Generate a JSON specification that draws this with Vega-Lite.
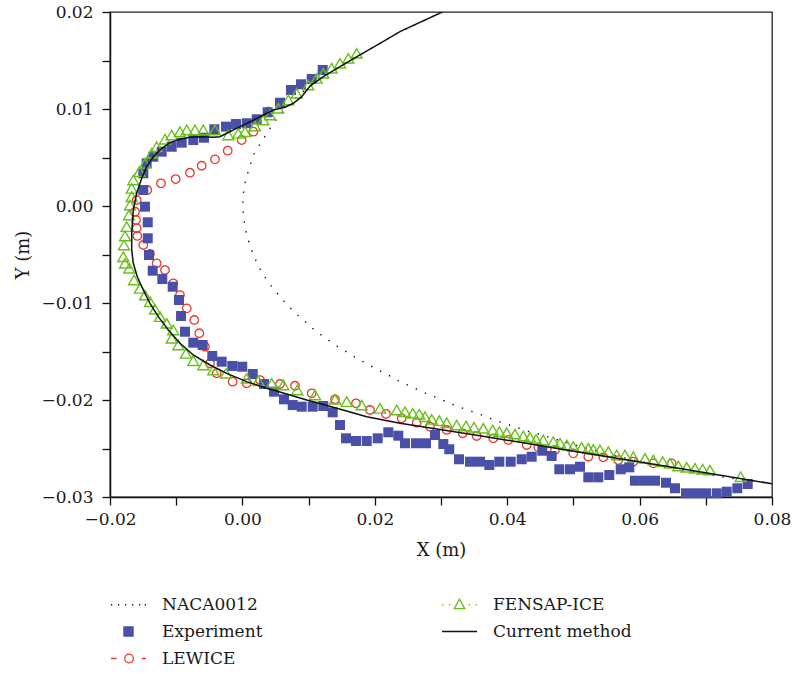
{
"$schema": "https://vega.github.io/schema/vega-lite/v6.json",
"width": 662, "height": 485,
"autosize": {"type": "none"},
"padding": {"left": 110, "top": 12, "right": 20, "bottom": 177},
"background": "white",
"config": {
  "font": "DejaVu Serif",
  "view": {"stroke": "#222", "strokeWidth": 1.3},
  "axis": {"grid": false, "domainColor": "#111", "domainWidth": 1.5, "tickColor": "#111", "tickWidth": 1.3, "tickSize": 8,
    "labelFont": "DejaVu Serif", "labelFontSize": 17, "labelColor": "#1a1a1a", "titleFont": "DejaVu Serif", "titleFontSize": 18,
    "titleFontWeight": "normal", "titleColor": "#1a1a1a", "labelOverlap": false, "labelFlush": false}
},
"data": {"values": [
{"series":"NACA0012","x":0.0345,"y":0.0211},{"series":"NACA0012","x":0.0301,"y":0.01997},{"series":"NACA0012","x":0.0238,"y":0.01797},{"series":"NACA0012","x":0.02079,"y":0.01677},{"series":"NACA0012","x":0.01776,"y":0.01557},{"series":"NACA0012","x":0.01474,"y":0.01436},{"series":"NACA0012","x":0.01222,"y":0.01333},{"series":"NACA0012","x":0.01021,"y":0.01237},{"series":"NACA0012","x":0.0075,"y":0.0108},{"series":"NACA0012","x":0.00533,"y":0.00914},{"series":"NACA0012","x":0.00443,"y":0.00825},{"series":"NACA0012","x":0.00352,"y":0.00732},{"series":"NACA0012","x":0.00266,"y":0.00639},{"series":"NACA0012","x":0.0018,"y":0.00543},{"series":"NACA0012","x":0.00125,"y":0.0044},{"series":"NACA0012","x":0.0008,"y":0.00337},{"series":"NACA0012","x":0.00039,"y":0.00234},{"series":"NACA0012","x":0.00014,"y":0.00124},{"series":"NACA0012","x":0.00005,"y":0.00021},{"series":"NACA0012","x":0.00014,"y":-0.00086},{"series":"NACA0012","x":0.00035,"y":-0.00196},{"series":"NACA0012","x":0.00065,"y":-0.003},{"series":"NACA0012","x":0.00115,"y":-0.00402},{"series":"NACA0012","x":0.00165,"y":-0.00505},{"series":"NACA0012","x":0.00231,"y":-0.006},{"series":"NACA0012","x":0.003,"y":-0.00693},{"series":"NACA0012","x":0.00391,"y":-0.00786},{"series":"NACA0012","x":0.00492,"y":-0.00873},{"series":"NACA0012","x":0.00594,"y":-0.00956},{"series":"NACA0012","x":0.00693,"y":-0.01031},{"series":"NACA0012","x":0.00805,"y":-0.01106},{"series":"NACA0012","x":0.0092,"y":-0.01175},{"series":"NACA0012","x":0.01047,"y":-0.01255},{"series":"NACA0012","x":0.01172,"y":-0.0132},{"series":"NACA0012","x":0.01313,"y":-0.01389},{"series":"NACA0012","x":0.0144,"y":-0.0145},{"series":"NACA0012","x":0.01576,"y":-0.01505},{"series":"NACA0012","x":0.01705,"y":-0.0156},{"series":"NACA0012","x":0.01852,"y":-0.01615},{"series":"NACA0012","x":0.01988,"y":-0.01667},{"series":"NACA0012","x":0.02128,"y":-0.01719},{"series":"NACA0012","x":0.0227,"y":-0.01766},{"series":"NACA0012","x":0.02406,"y":-0.01822},{"series":"NACA0012","x":0.02557,"y":-0.01863},{"series":"NACA0012","x":0.02698,"y":-0.0191},{"series":"NACA0012","x":0.02844,"y":-0.01952},{"series":"NACA0012","x":0.02995,"y":-0.01993},{"series":"NACA0012","x":0.03136,"y":-0.02034},{"series":"NACA0012","x":0.03287,"y":-0.02075},{"series":"NACA0012","x":0.03438,"y":-0.02113},{"series":"NACA0012","x":0.03589,"y":-0.02148},{"series":"NACA0012","x":0.0374,"y":-0.02189},{"series":"NACA0012","x":0.03881,"y":-0.02224},{"series":"NACA0012","x":0.04032,"y":-0.02258},{"series":"NACA0012","x":0.04183,"y":-0.02292},{"series":"NACA0012","x":0.04334,"y":-0.02327},{"series":"NACA0012","x":0.04485,"y":-0.02351},{"series":"NACA0012","x":0.04636,"y":-0.02385},{"series":"NACA0012","x":0.04798,"y":-0.02418},{"series":"NACA0012","x":0.051,"y":-0.02479},{"series":"NACA0012","x":0.05402,"y":-0.02536},{"series":"NACA0012","x":0.05704,"y":-0.02588},{"series":"NACA0012","x":0.06006,"y":-0.02634},{"series":"NACA0012","x":0.06308,"y":-0.02675},{"series":"NACA0012","x":0.0661,"y":-0.02716},{"series":"NACA0012","x":0.06912,"y":-0.02753},{"series":"NACA0012","x":0.07215,"y":-0.02789},{"series":"NACA0012","x":0.07517,"y":-0.0282},{"series":"NACA0012","x":0.07819,"y":-0.02845},{"series":"NACA0012","x":0.08121,"y":-0.02876},
{"series":"LEWICE","x":0.00568,"y":0.01059},{"series":"LEWICE","x":0.00391,"y":0.00972},{"series":"LEWICE","x":0.00165,"y":0.00766},{"series":"LEWICE","x":-0.00011,"y":0.0068},{"series":"LEWICE","x":-0.00222,"y":0.0057},{"series":"LEWICE","x":-0.00414,"y":0.00481},{"series":"LEWICE","x":-0.00615,"y":0.00415},{"series":"LEWICE","x":-0.00792,"y":0.00343},{"series":"LEWICE","x":-0.01008,"y":0.00278},{"series":"LEWICE","x":-0.0123,"y":0.00234},{"series":"LEWICE","x":-0.01437,"y":0.00165},{"series":"LEWICE","x":-0.01597,"y":0.00062},{"series":"LEWICE","x":-0.01622,"y":-0.00059},{"series":"LEWICE","x":-0.01607,"y":-0.00144},{"series":"LEWICE","x":-0.01597,"y":-0.0023},{"series":"LEWICE","x":-0.01588,"y":-0.00309},{"series":"LEWICE","x":-0.01497,"y":-0.00402},{"series":"LEWICE","x":-0.01396,"y":-0.00495},{"series":"LEWICE","x":-0.01295,"y":-0.00591},{"series":"LEWICE","x":-0.01169,"y":-0.0066},{"series":"LEWICE","x":-0.01044,"y":-0.00797},{"series":"LEWICE","x":-0.00943,"y":-0.00918},{"series":"LEWICE","x":-0.00841,"y":-0.01055},{"series":"LEWICE","x":-0.00727,"y":-0.01175},{"series":"LEWICE","x":-0.00651,"y":-0.01312},{"series":"LEWICE","x":-0.00565,"y":-0.01451},{"series":"LEWICE","x":-0.00489,"y":-0.01622},{"series":"LEWICE","x":-0.00388,"y":-0.01725},{"series":"LEWICE","x":-0.00147,"y":-0.01811},{"series":"LEWICE","x":0.00065,"y":-0.01828},{"series":"LEWICE","x":0.00266,"y":-0.01794},{"series":"LEWICE","x":0.00568,"y":-0.01835},{"series":"LEWICE","x":0.00795,"y":-0.01853},{"series":"LEWICE","x":0.01047,"y":-0.01931},{"series":"LEWICE","x":0.01399,"y":-0.01993},{"series":"LEWICE","x":0.01716,"y":-0.02034},{"series":"LEWICE","x":0.01927,"y":-0.02103},{"series":"LEWICE","x":0.02169,"y":-0.02144},{"series":"LEWICE","x":0.02406,"y":-0.02189},{"series":"LEWICE","x":0.02633,"y":-0.02234},{"series":"LEWICE","x":0.02834,"y":-0.02275},{"series":"LEWICE","x":0.03086,"y":-0.02309},{"series":"LEWICE","x":0.03328,"y":-0.02343},{"series":"LEWICE","x":0.03539,"y":-0.02371},{"series":"LEWICE","x":0.0379,"y":-0.02395},{"series":"LEWICE","x":0.04017,"y":-0.02412},{"series":"LEWICE","x":0.04295,"y":-0.02464},{"series":"LEWICE","x":0.0447,"y":-0.02488},{"series":"LEWICE","x":0.04722,"y":-0.02515},{"series":"LEWICE","x":0.04998,"y":-0.0255},{"series":"LEWICE","x":0.05225,"y":-0.02585},{"series":"LEWICE","x":0.05452,"y":-0.02591},{"series":"LEWICE","x":0.05678,"y":-0.02619},{"series":"LEWICE","x":0.05905,"y":-0.02636},{"series":"LEWICE","x":0.06207,"y":-0.02653},{"series":"LEWICE","x":0.06485,"y":-0.02653},
{"series":"Experiment","x":0.01213,"y":0.01402},{"series":"Experiment","x":0.01047,"y":0.01309},{"series":"Experiment","x":0.00885,"y":0.01255},{"series":"Experiment","x":0.00734,"y":0.01196},{"series":"Experiment","x":0.00568,"y":0.01065},{"series":"Experiment","x":0.00382,"y":0.00966},{"series":"Experiment","x":0.00216,"y":0.00894},{"series":"Experiment","x":0.00065,"y":0.00853},{"series":"Experiment","x":-0.00097,"y":0.00845},{"series":"Experiment","x":-0.00248,"y":0.00818},{"series":"Experiment","x":-0.00424,"y":0.00791},{"series":"Experiment","x":-0.0058,"y":0.00704},{"series":"Experiment","x":-0.00742,"y":0.0068},{"series":"Experiment","x":-0.00917,"y":0.00653},{"series":"Experiment","x":-0.01068,"y":0.00611},{"series":"Experiment","x":-0.01219,"y":0.0056},{"series":"Experiment","x":-0.01346,"y":0.00508},{"series":"Experiment","x":-0.01446,"y":0.0044},{"series":"Experiment","x":-0.01497,"y":0.00337},{"series":"Experiment","x":-0.01497,"y":0.00165},{"series":"Experiment","x":-0.01471,"y":-0.00007},{"series":"Experiment","x":-0.0143,"y":-0.00168},{"series":"Experiment","x":-0.0143,"y":-0.00333},{"series":"Experiment","x":-0.01411,"y":-0.00505},{"series":"Experiment","x":-0.01355,"y":-0.00667},{"series":"Experiment","x":-0.0121,"y":-0.00753},{"series":"Experiment","x":-0.01053,"y":-0.00832},{"series":"Experiment","x":-0.00958,"y":-0.00969},{"series":"Experiment","x":-0.00927,"y":-0.01134},{"series":"Experiment","x":-0.00867,"y":-0.01296},{"series":"Experiment","x":-0.00742,"y":-0.01409},{"series":"Experiment","x":-0.006,"y":-0.01433},{"series":"Experiment","x":-0.00455,"y":-0.01546},{"series":"Experiment","x":-0.00313,"y":-0.01605},{"series":"Experiment","x":-0.00153,"y":-0.01649},{"series":"Experiment","x":-0.00002,"y":-0.01657},{"series":"Experiment","x":0.00156,"y":-0.01732},{"series":"Experiment","x":0.00326,"y":-0.01835},{"series":"Experiment","x":0.00477,"y":-0.01914},{"series":"Experiment","x":0.00628,"y":-0.01993},{"series":"Experiment","x":0.0076,"y":-0.02052},{"series":"Experiment","x":0.00896,"y":-0.02069},{"series":"Experiment","x":0.01062,"y":-0.02069},{"series":"Experiment","x":0.01222,"y":-0.02062},{"series":"Experiment","x":0.01364,"y":-0.02127},{"series":"Experiment","x":0.01474,"y":-0.02258},{"series":"Experiment","x":0.01565,"y":-0.02395},{"series":"Experiment","x":0.01716,"y":-0.02423},{"series":"Experiment","x":0.01878,"y":-0.02423},{"series":"Experiment","x":0.02044,"y":-0.02395},{"series":"Experiment","x":0.02204,"y":-0.02333},{"series":"Experiment","x":0.02355,"y":-0.02368},{"series":"Experiment","x":0.02456,"y":-0.02446},{"series":"Experiment","x":0.02622,"y":-0.02446},{"series":"Experiment","x":0.02773,"y":-0.02446},{"series":"Experiment","x":0.02909,"y":-0.02361},{"series":"Experiment","x":0.03035,"y":-0.02454},{"series":"Experiment","x":0.03125,"y":-0.02508},{"series":"Experiment","x":0.03272,"y":-0.02611},{"series":"Experiment","x":0.03438,"y":-0.02636},{"series":"Experiment","x":0.03589,"y":-0.02636},{"series":"Experiment","x":0.0373,"y":-0.0267},{"series":"Experiment","x":0.03881,"y":-0.02636},{"series":"Experiment","x":0.04053,"y":-0.02636},{"series":"Experiment","x":0.04219,"y":-0.02611},{"series":"Experiment","x":0.0437,"y":-0.02585},{"series":"Experiment","x":0.0453,"y":-0.02523},{"series":"Experiment","x":0.04672,"y":-0.02577},{"series":"Experiment","x":0.04787,"y":-0.02714},{"series":"Experiment","x":0.04949,"y":-0.02714},{"series":"Experiment","x":0.051,"y":-0.02688},{"series":"Experiment","x":0.05225,"y":-0.02797},{"series":"Experiment","x":0.05376,"y":-0.02797},{"series":"Experiment","x":0.05542,"y":-0.02773},{"series":"Experiment","x":0.05715,"y":-0.02714},{"series":"Experiment","x":0.05844,"y":-0.02694},{"series":"Experiment","x":0.0593,"y":-0.02832},{"series":"Experiment","x":0.06082,"y":-0.02832},{"series":"Experiment","x":0.06233,"y":-0.02832},{"series":"Experiment","x":0.06399,"y":-0.02853},{"series":"Experiment","x":0.06535,"y":-0.0291},{"series":"Experiment","x":0.06701,"y":-0.02962},{"series":"Experiment","x":0.06852,"y":-0.02962},{"series":"Experiment","x":0.07003,"y":-0.02962},{"series":"Experiment","x":0.07165,"y":-0.02962},{"series":"Experiment","x":0.07316,"y":-0.02945},{"series":"Experiment","x":0.07476,"y":-0.0291},{"series":"Experiment","x":0.07633,"y":-0.02866},
{"series":"FENSAP-ICE","x":0.01727,"y":0.01574},{"series":"FENSAP-ICE","x":0.016,"y":0.01523},{"series":"FENSAP-ICE","x":0.01474,"y":0.01471},{"series":"FENSAP-ICE","x":0.01349,"y":0.0142},{"series":"FENSAP-ICE","x":0.01222,"y":0.01368},{"series":"FENSAP-ICE","x":0.01122,"y":0.01316},{"series":"FENSAP-ICE","x":0.00995,"y":0.01247},{"series":"FENSAP-ICE","x":0.0082,"y":0.01162},{"series":"FENSAP-ICE","x":0.00693,"y":0.01093},{"series":"FENSAP-ICE","x":0.00542,"y":0.01007},{"series":"FENSAP-ICE","x":0.00417,"y":0.00938},{"series":"FENSAP-ICE","x":0.00316,"y":0.00887},{"series":"FENSAP-ICE","x":0.0019,"y":0.00825},{"series":"FENSAP-ICE","x":0.00039,"y":0.00766},{"series":"FENSAP-ICE","x":-0.00062,"y":0.00749},{"series":"FENSAP-ICE","x":-0.00213,"y":0.00732},{"series":"FENSAP-ICE","x":-0.00414,"y":0.00784},{"series":"FENSAP-ICE","x":-0.00591,"y":0.00784},{"series":"FENSAP-ICE","x":-0.00716,"y":0.00784},{"series":"FENSAP-ICE","x":-0.00841,"y":0.00784},{"series":"FENSAP-ICE","x":-0.00943,"y":0.00766},{"series":"FENSAP-ICE","x":-0.01068,"y":0.00732},{"series":"FENSAP-ICE","x":-0.01169,"y":0.00688},{"series":"FENSAP-ICE","x":-0.01295,"y":0.00611},{"series":"FENSAP-ICE","x":-0.0137,"y":0.00543},{"series":"FENSAP-ICE","x":-0.01471,"y":0.0044},{"series":"FENSAP-ICE","x":-0.01557,"y":0.00354},{"series":"FENSAP-ICE","x":-0.01648,"y":0.00268},{"series":"FENSAP-ICE","x":-0.01672,"y":0.00182},{"series":"FENSAP-ICE","x":-0.01672,"y":0.00096},{"series":"FENSAP-ICE","x":-0.01698,"y":0.0001},{"series":"FENSAP-ICE","x":-0.01713,"y":-0.00093},{"series":"FENSAP-ICE","x":-0.01748,"y":-0.00213},{"series":"FENSAP-ICE","x":-0.01773,"y":-0.00309},{"series":"FENSAP-ICE","x":-0.01789,"y":-0.00402},{"series":"FENSAP-ICE","x":-0.01799,"y":-0.00523},{"series":"FENSAP-ICE","x":-0.01773,"y":-0.00591},{"series":"FENSAP-ICE","x":-0.01708,"y":-0.00642},{"series":"FENSAP-ICE","x":-0.01637,"y":-0.00763},{"series":"FENSAP-ICE","x":-0.01547,"y":-0.00849},{"series":"FENSAP-ICE","x":-0.01471,"y":-0.00918},{"series":"FENSAP-ICE","x":-0.01396,"y":-0.00987},{"series":"FENSAP-ICE","x":-0.0132,"y":-0.01065},{"series":"FENSAP-ICE","x":-0.01245,"y":-0.01141},{"series":"FENSAP-ICE","x":-0.01144,"y":-0.01209},{"series":"FENSAP-ICE","x":-0.01044,"y":-0.01278},{"series":"FENSAP-ICE","x":-0.01068,"y":-0.01364},{"series":"FENSAP-ICE","x":-0.00968,"y":-0.01433},{"series":"FENSAP-ICE","x":-0.00852,"y":-0.01519},{"series":"FENSAP-ICE","x":-0.00742,"y":-0.01595},{"series":"FENSAP-ICE","x":-0.00591,"y":-0.01639},{"series":"FENSAP-ICE","x":-0.0044,"y":-0.01691},{"series":"FENSAP-ICE","x":-0.00248,"y":-0.01725},{"series":"FENSAP-ICE","x":0.00065,"y":-0.01776},{"series":"FENSAP-ICE","x":0.0024,"y":-0.01801},{"series":"FENSAP-ICE","x":0.00443,"y":-0.01828},{"series":"FENSAP-ICE","x":0.00618,"y":-0.01845},{"series":"FENSAP-ICE","x":0.00829,"y":-0.01897},{"series":"FENSAP-ICE","x":0.01097,"y":-0.01948},{"series":"FENSAP-ICE","x":0.01399,"y":-0.01993},{"series":"FENSAP-ICE","x":0.01576,"y":-0.02017},{"series":"FENSAP-ICE","x":0.01802,"y":-0.02052},{"series":"FENSAP-ICE","x":0.02079,"y":-0.02086},{"series":"FENSAP-ICE","x":0.02331,"y":-0.02103},{"series":"FENSAP-ICE","x":0.02456,"y":-0.02121},{"series":"FENSAP-ICE","x":0.02573,"y":-0.02137},{"series":"FENSAP-ICE","x":0.02672,"y":-0.02147},{"series":"FENSAP-ICE","x":0.02758,"y":-0.02172},{"series":"FENSAP-ICE","x":0.0286,"y":-0.02199},{"series":"FENSAP-ICE","x":0.02974,"y":-0.02213},{"series":"FENSAP-ICE","x":0.03086,"y":-0.02234},{"series":"FENSAP-ICE","x":0.03237,"y":-0.02258},{"series":"FENSAP-ICE","x":0.03378,"y":-0.02268},{"series":"FENSAP-ICE","x":0.03498,"y":-0.02281},{"series":"FENSAP-ICE","x":0.03639,"y":-0.02292},{"series":"FENSAP-ICE","x":0.03781,"y":-0.02309},{"series":"FENSAP-ICE","x":0.03881,"y":-0.02327},{"series":"FENSAP-ICE","x":0.03993,"y":-0.02337},{"series":"FENSAP-ICE","x":0.04118,"y":-0.02351},{"series":"FENSAP-ICE","x":0.04243,"y":-0.02371},{"series":"FENSAP-ICE","x":0.04344,"y":-0.02385},{"series":"FENSAP-ICE","x":0.04435,"y":-0.02405},{"series":"FENSAP-ICE","x":0.04545,"y":-0.02412},{"series":"FENSAP-ICE","x":0.04696,"y":-0.0243},{"series":"FENSAP-ICE","x":0.04798,"y":-0.02446},{"series":"FENSAP-ICE","x":0.04899,"y":-0.02464},{"series":"FENSAP-ICE","x":0.04998,"y":-0.02481},{"series":"FENSAP-ICE","x":0.05125,"y":-0.02488},{"series":"FENSAP-ICE","x":0.05225,"y":-0.02498},{"series":"FENSAP-ICE","x":0.05301,"y":-0.02508},{"series":"FENSAP-ICE","x":0.05402,"y":-0.02515},{"series":"FENSAP-ICE","x":0.05527,"y":-0.02533},{"series":"FENSAP-ICE","x":0.05654,"y":-0.02567},{"series":"FENSAP-ICE","x":0.05779,"y":-0.02567},{"series":"FENSAP-ICE","x":0.05905,"y":-0.02585},{"series":"FENSAP-ICE","x":0.06082,"y":-0.02601},{"series":"FENSAP-ICE","x":0.06207,"y":-0.02619},{"series":"FENSAP-ICE","x":0.06349,"y":-0.02636},{"series":"FENSAP-ICE","x":0.06459,"y":-0.02653},{"series":"FENSAP-ICE","x":0.06585,"y":-0.0268},{"series":"FENSAP-ICE","x":0.06711,"y":-0.02694},{"series":"FENSAP-ICE","x":0.06837,"y":-0.02704},{"series":"FENSAP-ICE","x":0.06953,"y":-0.02714},{"series":"FENSAP-ICE","x":0.07063,"y":-0.02722},{"series":"FENSAP-ICE","x":0.07527,"y":-0.02791},
{"series":"Current method","x":0.03438,"y":0.02165},{"series":"Current method","x":0.0301,"y":0.01997},{"series":"Current method","x":0.0238,"y":0.01797},{"series":"Current method","x":0.02079,"y":0.01677},{"series":"Current method","x":0.01776,"y":0.01557},{"series":"Current method","x":0.01474,"y":0.01436},{"series":"Current method","x":0.01222,"y":0.01333},{"series":"Current method","x":0.01021,"y":0.01237},{"series":"Current method","x":0.00896,"y":0.01127},{"series":"Current method","x":0.00769,"y":0.01059},{"series":"Current method","x":0.00643,"y":0.01018},{"series":"Current method","x":0.00467,"y":0.0099},{"series":"Current method","x":0.00316,"y":0.00938},{"series":"Current method","x":0.00141,"y":0.00876},{"series":"Current method","x":-0.00036,"y":0.00818},{"series":"Current method","x":-0.00237,"y":0.0075},{"series":"Current method","x":-0.00338,"y":0.00714},{"series":"Current method","x":-0.00439,"y":0.00708},{"series":"Current method","x":-0.0064,"y":0.00714},{"series":"Current method","x":-0.00792,"y":0.00708},{"series":"Current method","x":-0.00943,"y":0.00688},{"series":"Current method","x":-0.01094,"y":0.00653},{"series":"Current method","x":-0.01219,"y":0.00595},{"series":"Current method","x":-0.01346,"y":0.00508},{"series":"Current method","x":-0.01446,"y":0.00405},{"series":"Current method","x":-0.01521,"y":0.00286},{"series":"Current method","x":-0.01597,"y":0.00131},{"series":"Current method","x":-0.01648,"y":-0.00041},{"series":"Current method","x":-0.01672,"y":-0.00281},{"series":"Current method","x":-0.01672,"y":-0.00454},{"series":"Current method","x":-0.01648,"y":-0.00591},{"series":"Current method","x":-0.01588,"y":-0.00729},{"series":"Current method","x":-0.01497,"y":-0.00866},{"series":"Current method","x":-0.01396,"y":-0.01003},{"series":"Current method","x":-0.0127,"y":-0.01141},{"series":"Current method","x":-0.01119,"y":-0.01278},{"series":"Current method","x":-0.00943,"y":-0.01415},{"series":"Current method","x":-0.00742,"y":-0.01536},{"series":"Current method","x":-0.00489,"y":-0.01639},{"series":"Current method","x":-0.00237,"y":-0.01725},{"series":"Current method","x":0.00065,"y":-0.01811},{"series":"Current method","x":0.00367,"y":-0.01879},{"series":"Current method","x":0.00669,"y":-0.01938},{"series":"Current method","x":0.00971,"y":-0.02},{"series":"Current method","x":0.01373,"y":-0.02075},{"series":"Current method","x":0.01878,"y":-0.02172},{"series":"Current method","x":0.02381,"y":-0.0224},{"series":"Current method","x":0.03589,"y":-0.02368},{"series":"Current method","x":0.051,"y":-0.02538},{"series":"Current method","x":0.0661,"y":-0.02707},{"series":"Current method","x":0.0802,"y":-0.02866},{"series":"Current method","x":0.0815,"y":-0.0288}
]},
"encoding": {
  "x": {"field": "x", "type": "quantitative",
    "scale": {"domain": [-0.02, 0.08], "nice": false, "zero": false},
    "axis": {"title": "X (m)", "values": [-0.02,-0.01,0,0.01,0.02,0.03,0.04,0.05,0.06,0.07,0.08],
      "labelExpr": "abs(datum.value*50 - round(datum.value*50)) < 0.001 ? format(datum.value, '.2f') : ''",
      "labelPadding": 6, "titlePadding": 14,
      "encode": {"ticks": {"update": {"y2": {"signal": "abs(datum.value*50 - round(datum.value*50)) < 0.001 ? 8 : 4"}}}}}},
  "y": {"field": "y", "type": "quantitative",
    "scale": {"domain": [-0.03, 0.02], "nice": false, "zero": false},
    "axis": {"title": "Y (m)", "values": [-0.03,-0.025,-0.02,-0.015,-0.01,-0.005,0,0.005,0.01,0.015,0.02],
      "labelExpr": "abs(datum.value*100 - round(datum.value*100)) < 0.001 ? format(datum.value, '.2f') : ''",
      "labelPadding": 9, "titlePadding": 8,
      "encode": {"ticks": {"update": {"x2": {"signal": "abs(datum.value*100 - round(datum.value*100)) < 0.001 ? -8 : -4"}}}}}},
  "color": {"field": "series", "type": "nominal",
    "scale": {"domain": ["NACA0012", "Experiment", "LEWICE", "FENSAP-ICE", "Current method"],
              "range": ["#111111", "#4a50a8", "#e8392e", "#6abf1a", "#111111"]},
    "legend": {"title": null, "orient": "none", "legendX": 0, "legendY": 574, "columns": 2, "columnPadding": 176, "rowPadding": -11,
      "symbolSize": 1225, "symbolStrokeWidth": 1.3, "labelFontSize": 17, "labelOffset": 15, "labelFont": "DejaVu Serif", "labelColor": "#1a1a1a", "padding": 0,
      "encode": {"symbols": {"update": {
        "shape": {"signal": "datum.value === 'NACA0012' ? 'M-1,0h0.07M-0.6,0h0.07M-0.2,0h0.07M0.2,0h0.07M0.6,0h0.07M0.93,0h0.07' : datum.value === 'FENSAP-ICE' ? 'M-1,0h0.07M-0.6,0h0.07M0.53,0h0.07M0.93,0h0.07M0,-0.32L0.3,0.22L-0.3,0.22Z' : datum.value === 'Experiment' ? 'M-0.26,-0.26H0.26V0.26H-0.26Z' : datum.value === 'LEWICE' ? 'M-1,0H-0.68M0.28,0A0.25,0.25 0 1 1 -0.22,0A0.25,0.25 0 1 1 0.28,0M0.76,0H1' : 'M-1,0H1'"},
        "fill": {"signal": "datum.value === 'Experiment' ? '#4a50a8' : 'white'"},
        "fillOpacity": {"signal": "datum.value === 'Experiment' ? 1 : 0"},
        "stroke": {"signal": "datum.value === 'FENSAP-ICE' ? '#6abf1a' : datum.value === 'Experiment' ? '#4a50a8' : datum.value === 'LEWICE' ? '#e8392e' : '#111111'"},
        "strokeWidth": {"value": 1.3},
        "opacity": {"value": 1}
      }}}}}
},
"layer": [
  {"transform": [{"filter": "datum.series === 'NACA0012'"}],
   "mark": {"type": "line", "strokeDash": [1.4, 8.6], "strokeWidth": 1.4, "clip": true},
   "encoding": {"order": {"value": null}}},
  {"transform": [{"filter": "datum.series === 'LEWICE'"}],
   "mark": {"type": "point", "shape": "circle", "filled": false, "size": 72, "strokeWidth": 1.3, "opacity": 1}},
  {"transform": [{"filter": "datum.series === 'Experiment'"}],
   "mark": {"type": "point", "shape": "square", "filled": true, "size": 100, "opacity": 1}},
  {"transform": [{"filter": "datum.series === 'FENSAP-ICE'"}],
   "mark": {"type": "point", "shape": "triangle-up", "filled": false, "size": 120, "strokeWidth": 1.4, "opacity": 1}},
  {"transform": [{"filter": "datum.series === 'Current method'"}],
   "mark": {"type": "line", "strokeWidth": 1.5, "clip": true},
   "encoding": {"order": {"value": null}}}
]
}
